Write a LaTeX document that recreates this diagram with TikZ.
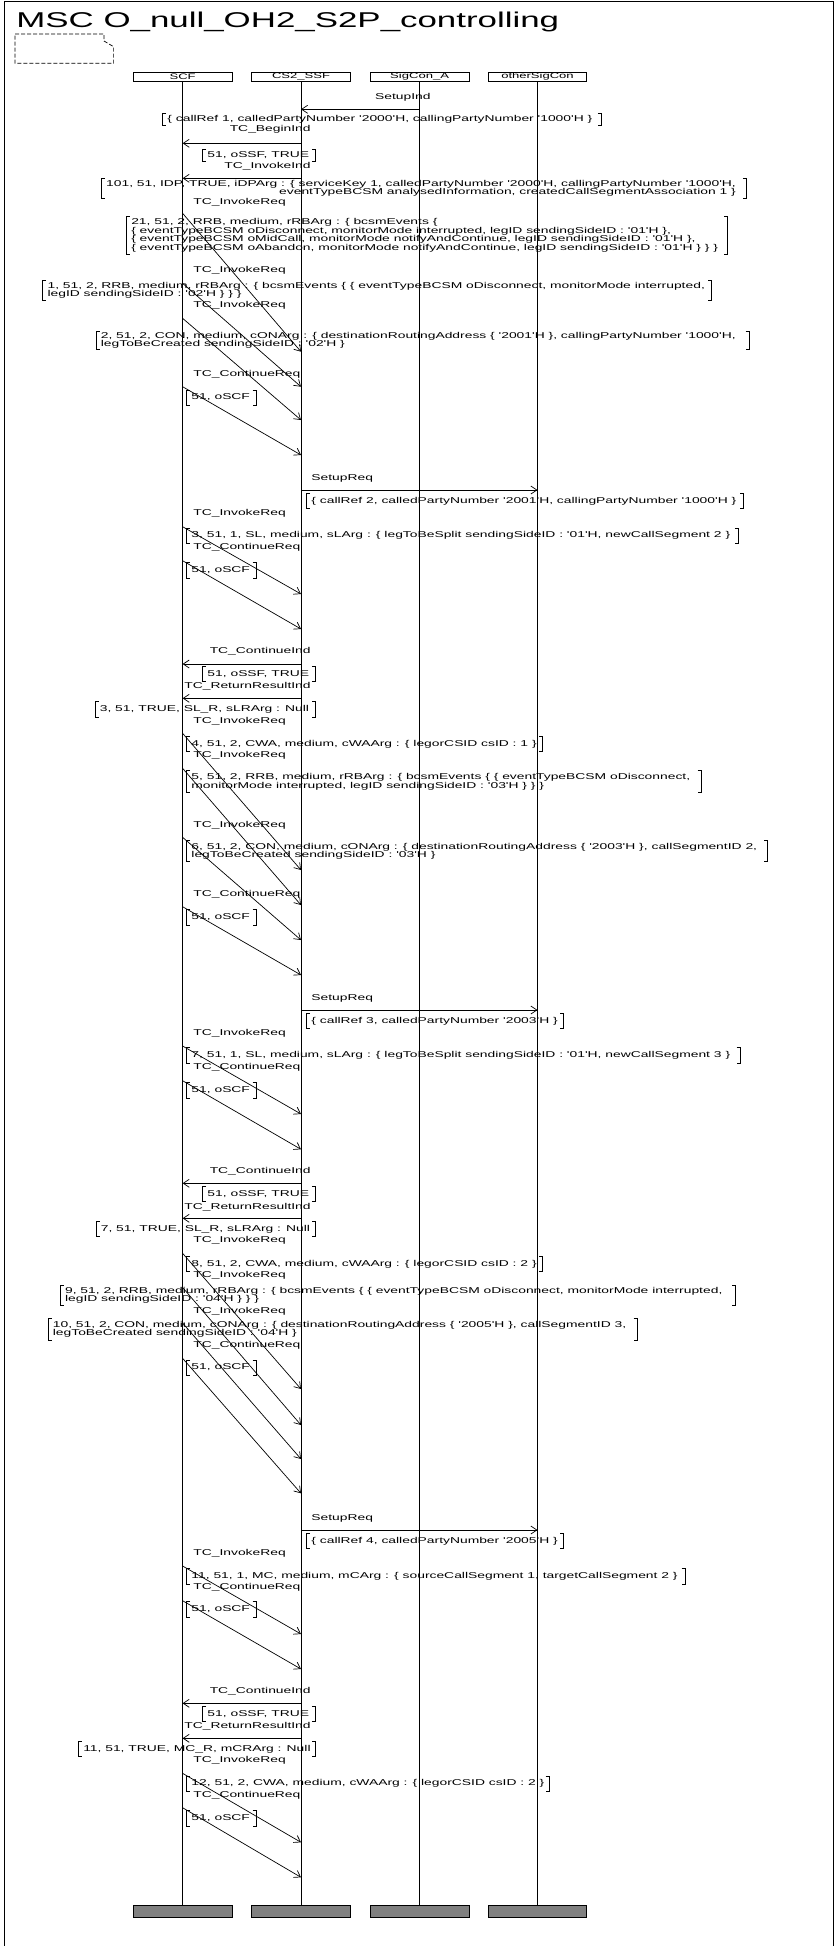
\documentclass[tikz,border=0pt]{standalone}
\usepackage{fontspec}
\setmainfont{Liberation Sans}[FakeStretch=1.63, Ligatures=TeXOff]
\usetikzlibrary{arrows.meta, calc}

% parameter box: [node options] name, left x, right x, top y, bottom y, text
\newcommand{\prm}[7][]{%
    \draw (#3+3.5,#5) -- (#3,#5) -- (#3,#6) -- (#3+3.5,#6);
    \draw (#4-3.5,#5) -- (#4,#5) -- (#4,#6) -- (#4-3.5,#6);
    \node[prm, #1] (#2) at (#3+4.5,{(#5+#6)/2}) {#7};
}

\begin{document}
\begin{tikzpicture}[
    x=1pt, y=-1pt, % one unit = one pixel, y runs downwards
    >={Straight Barb[length=6pt, width=8pt]},
    line width=0.7pt,
    font=\fontsize{8.5}{8.4}\selectfont,
    inst/.style={draw, minimum width=98.6pt, minimum height=9pt, inner sep=0pt, font=\fontsize{8}{8}\selectfont},
    instEnd/.style={draw, fill=gray, minimum width=98.6pt, minimum height=11.6pt, inner sep=0pt},
    msg/.style={->},
    lblR/.style={anchor=mid west, inner sep=0pt},
    lblL/.style={anchor=mid east, inner sep=0pt},
    prm/.style={anchor=west, inner sep=0pt, align=left}
]

    % === 0. PAGE & FRAME ===
    \useasboundingbox (0,0) rectangle (836,1946);
    \draw (4,1946) -- (4,1) -- (833,1) -- (833,1946);

    % === 1. TITLE & TEXT SYMBOL ===
    \node[anchor=base west, inner sep=0pt, font=\fontsize{21.4}{24}\selectfont] (title) at (16,27.8)
        {MSC O\_null\_OH2\_S2P\_controlling};
    \draw[dash pattern=on 4pt off 2pt]
        (15,34) -- (104,34) -- (104,41) -- (113.6,46.7) -- (113.6,63.3) -- (15,63.3) -- cycle;

    % === 2. INSTANCES ===
    \def\yHead{76.5}   % instance heads
    \def\yEnd{1911.5}  % instance ends

    \node[inst] (scf)   at (182.6,\yHead) {SCF};
    \node[inst] (ssf)   at (301,\yHead)   {CS2\_SSF};
    \node[inst] (sigA)  at (419.6,\yHead) {SigCon\_A};
    \node[inst] (other) at (537.5,\yHead) {otherSigCon};

    \node[instEnd] (scfEnd)   at (scf |- 0,\yEnd) {};
    \node[instEnd] (ssfEnd)   at (ssf |- 0,\yEnd) {};
    \node[instEnd] (sigAEnd)  at (sigA |- 0,\yEnd) {};
    \node[instEnd] (otherEnd) at (other |- 0,\yEnd) {};

    % lifelines
    \draw (scf) -- (scfEnd);
    \draw (ssf) -- (ssfEnd);
    \draw (sigA) -- (sigAEnd);
    \draw (other) -- (otherEnd);

    % === 3. SETUP & IDP ===
    \node[lblL] (m1) at (431,97) {SetupInd};
    \draw[msg] (sigA |- 0,109.3) -- (ssf |- 0,109.3);
    \prm{p1}{162.6}{601.4}{113}{125}{\{ callRef 1, calledPartyNumber '2000'H, callingPartyNumber '1000'H \}}

    \node[lblL] (m2) at (311,129) {TC\_BeginInd};
    \draw[msg] (ssf |- 0,143.3) -- (scf |- 0,143.3);
    \prm{p2}{202.6}{315.6}{149}{161.7}{51, oSSF, TRUE}

    \node[lblL] (m3) at (311,166) {TC\_InvokeInd};
    \draw[msg] (ssf |- 0,178.3) -- (scf |- 0,178.3);
    \prm[align=right]{p3}{101.3}{746.4}{178.3}{198.3}{101, 51, IDP, TRUE, iDPArg : \{ serviceKey 1, calledPartyNumber '2000'H, callingPartyNumber '1000'H,\\
        eventTypeBCSM analysedInformation, createdCallSegmentAssociation 1 \}}

    % === 4. FIRST REQUESTS TO CS2_SSF ===
    \node[lblR] (m4) at (193,201.7) {TC\_InvokeReq};
    \draw[msg] (scf |- 0,213.3) -- (ssf |- 0,351.7);
    \prm{p4}{126.4}{727.8}{216.7}{254}{21, 51, 2, RRB, medium, rRBArg : \{ bcsmEvents \{\\
        \{ eventTypeBCSM oDisconnect, monitorMode interrupted, legID sendingSideID : '01'H \},\\
        \{ eventTypeBCSM oMidCall, monitorMode notifyAndContinue, legID sendingSideID : '01'H \},\\
        \{ eventTypeBCSM oAbandon, monitorMode notifyAndContinue, legID sendingSideID : '01'H \} \} \}}

    \node[lblR] (m5) at (193,270) {TC\_InvokeReq};
    \draw[msg] (scf |- 0,283.3) -- (ssf |- 0,386.7);
    \prm{p5}{42.7}{711.8}{280}{300}{1, 51, 2, RRB, medium, rRBArg : \{ bcsmEvents \{ \{ eventTypeBCSM oDisconnect, monitorMode interrupted,\\
        legID sendingSideID : '02'H \} \} \}}

    \node[lblR] (m6) at (193,305.3) {TC\_InvokeReq};
    \draw[msg] (scf |- 0,318.3) -- (ssf |- 0,420);
    \prm{p6}{96}{749}{331}{349.3}{2, 51, 2, CON, medium, cONArg : \{ destinationRoutingAddress \{ '2001'H \}, callingPartyNumber '1000'H,\\
        legToBeCreated sendingSideID : '02'H \}}

    \node[lblR] (m7) at (193,374.3) {TC\_ContinueReq};
    \draw[msg] (scf |- 0,386.7) -- (ssf |- 0,455);
    \prm{p7}{186.6}{256}{390}{405}{51, oSCF}

    % === 5. CALL SEGMENT 2 ===
    \node[lblR] (m8) at (311,477.7) {SetupReq};
    \draw[msg] (ssf |- 0,490) -- (other |- 0,490);
    \prm{p8}{306.6}{743.8}{493.3}{508.3}{\{ callRef 2, calledPartyNumber '2001'H, callingPartyNumber '1000'H \}}

    \node[lblR] (m9) at (193,513.3) {TC\_InvokeReq};
    \draw[msg] (scf |- 0,526.7) -- (ssf |- 0,594);
    \prm{p9}{186.6}{738.4}{528}{543.3}{3, 51, 1, SL, medium, sLArg : \{ legToBeSplit sendingSideID : '01'H, newCallSegment 2 \}}

    \node[lblR] (m10) at (193,547.3) {TC\_ContinueReq};
    \draw[msg] (scf |- 0,560.7) -- (ssf |- 0,629);
    \prm{p10}{186.6}{256}{562.7}{578.3}{51, oSCF}

    \node[lblL] (m11) at (311,651) {TC\_ContinueInd};
    \draw[msg] (ssf |- 0,664) -- (scf |- 0,664);
    \prm{p11}{202.6}{315.6}{666.7}{681.7}{51, oSSF, TRUE}

    \node[lblL] (m12) at (311,686) {TC\_ReturnResultInd};
    \draw[msg] (ssf |- 0,698.3) -- (scf |- 0,698.3);
    \prm{p12}{95}{315.6}{701.7}{717.3}{3, 51, TRUE, SL\_R, sLRArg : Null}

    \node[lblR] (m13) at (193,721) {TC\_InvokeReq};
    \draw[msg] (scf |- 0,733.3) -- (ssf |- 0,870);
    \prm{p13}{186.6}{542.8}{736.7}{751.7}{4, 51, 2, CWA, medium, cWAArg : \{ legorCSID csID : 1 \}}

    \node[lblR] (m14) at (193,755) {TC\_InvokeReq};
    \draw[msg] (scf |- 0,768.3) -- (ssf |- 0,905);
    \prm{p14}{186.6}{701}{770.7}{792.7}{5, 51, 2, RRB, medium, rRBArg : \{ bcsmEvents \{ \{ eventTypeBCSM oDisconnect,\\
        monitorMode interrupted, legID sendingSideID : '03'H \} \} \}}

    \node[lblR] (m15) at (193,825) {TC\_InvokeReq};
    \draw[msg] (scf |- 0,837.3) -- (ssf |- 0,940);
    \prm{p15}{186.6}{767.8}{840.7}{861.7}{6, 51, 2, CON, medium, cONArg : \{ destinationRoutingAddress \{ '2003'H \}, callSegmentID 2,\\
        legToBeCreated sendingSideID : '03'H \}}

    \node[lblR] (m16) at (193,894) {TC\_ContinueReq};
    \draw[msg] (scf |- 0,906.7) -- (ssf |- 0,975);
    \prm{p16}{186.6}{256}{909}{925}{51, oSCF}

    % === 6. CALL SEGMENT 3 ===
    \node[lblR] (m17) at (311,998.3) {SetupReq};
    \draw[msg] (ssf |- 0,1010) -- (other |- 0,1010);
    \prm{p17}{306.6}{563.6}{1013.3}{1028.3}{\{ callRef 3, calledPartyNumber '2003'H \}}

    \node[lblR] (m18) at (193,1032.7) {TC\_InvokeReq};
    \draw[msg] (scf |- 0,1046) -- (ssf |- 0,1114);
    \prm{p18}{186.6}{740}{1047.7}{1063.3}{7, 51, 1, SL, medium, sLArg : \{ legToBeSplit sendingSideID : '01'H, newCallSegment 3 \}}

    \node[lblR] (m19) at (193,1067.3) {TC\_ContinueReq};
    \draw[msg] (scf |- 0,1080.7) -- (ssf |- 0,1149.3);
    \prm{p19}{186.6}{256}{1082.7}{1098.3}{51, oSCF}

    \node[lblL] (m20) at (311,1171) {TC\_ContinueInd};
    \draw[msg] (ssf |- 0,1183.3) -- (scf |- 0,1183.3);
    \prm{p20}{202.6}{315.6}{1186.7}{1201.7}{51, oSSF, TRUE}

    \node[lblL] (m21) at (311,1206.7) {TC\_ReturnResultInd};
    \draw[msg] (ssf |- 0,1218.3) -- (scf |- 0,1218.3);
    \prm{p21}{96}{315.6}{1221.7}{1236.7}{7, 51, TRUE, SL\_R, sLRArg : Null}

    \node[lblR] (m22) at (193,1240) {TC\_InvokeReq};
    \draw[msg] (scf |- 0,1253.3) -- (ssf |- 0,1389);
    \prm{p22}{186.6}{542.8}{1256.7}{1271.7}{8, 51, 2, CWA, medium, cWAArg : \{ legorCSID csID : 2 \}}

    \node[lblR] (m23) at (193,1275) {TC\_InvokeReq};
    \draw[msg] (scf |- 0,1287.5) -- (ssf |- 0,1425);
    \prm{p23}{60.2}{735.8}{1285}{1305}{9, 51, 2, RRB, medium, rRBArg : \{ bcsmEvents \{ \{ eventTypeBCSM oDisconnect, monitorMode interrupted,\\
        legID sendingSideID : '04'H \} \} \}}

    \node[lblR] (m24) at (193,1310.7) {TC\_InvokeReq};
    \draw[msg] (scf |- 0,1323) -- (ssf |- 0,1459);
    \prm{p24}{48}{637}{1318.3}{1340}{10, 51, 2, CON, medium, cONArg : \{ destinationRoutingAddress \{ '2005'H \}, callSegmentID 3,\\
        legToBeCreated sendingSideID : '04'H \}}

    \node[lblR] (m25) at (193,1345) {TC\_ContinueReq};
    \draw[msg] (scf |- 0,1358.3) -- (ssf |- 0,1493.3);
    \prm{p25}{186.6}{256}{1360}{1375}{51, oSCF}

    % === 7. CALL SEGMENT 4 & MERGE ===
    \node[lblR] (m26) at (311,1518.3) {SetupReq};
    \draw[msg] (ssf |- 0,1530) -- (other |- 0,1530);
    \prm{p26}{306.6}{563.6}{1533.3}{1548.3}{\{ callRef 4, calledPartyNumber '2005'H \}}

    \node[lblR] (m27) at (193,1552.7) {TC\_InvokeReq};
    \draw[msg] (scf |- 0,1566) -- (ssf |- 0,1634);
    \prm{p27}{186.6}{685}{1568.3}{1584}{11, 51, 1, MC, medium, mCArg : \{ sourceCallSegment 1, targetCallSegment 2 \}}

    \node[lblR] (m28) at (193,1587.3) {TC\_ContinueReq};
    \draw[msg] (scf |- 0,1600.7) -- (ssf |- 0,1669);
    \prm{p28}{186.6}{256}{1601.7}{1617.3}{51, oSCF}

    \node[lblL] (m29) at (311,1691) {TC\_ContinueInd};
    \draw[msg] (ssf |- 0,1703.3) -- (scf |- 0,1703.3);
    \prm{p29}{202.6}{315.6}{1706}{1721.7}{51, oSSF, TRUE}

    \node[lblL] (m30) at (311,1726) {TC\_ReturnResultInd};
    \draw[msg] (ssf |- 0,1738.3) -- (scf |- 0,1738.3);
    \prm{p30}{78.4}{315.6}{1741}{1756.7}{11, 51, TRUE, MC\_R, mCRArg : Null}

    \node[lblR] (m31) at (193,1760) {TC\_InvokeReq};
    \draw[msg] (scf |- 0,1773.3) -- (ssf |- 0,1842.3);
    \prm{p31}{186.6}{549.2}{1776}{1791}{12, 51, 2, CWA, medium, cWAArg : \{ legorCSID csID : 2 \}}

    \node[lblR] (m32) at (193,1795) {TC\_ContinueReq};
    \draw[msg] (scf |- 0,1807.7) -- (ssf |- 0,1877.3);
    \prm{p32}{186.6}{256}{1810}{1826}{51, oSCF}

\end{tikzpicture}
\end{document}
